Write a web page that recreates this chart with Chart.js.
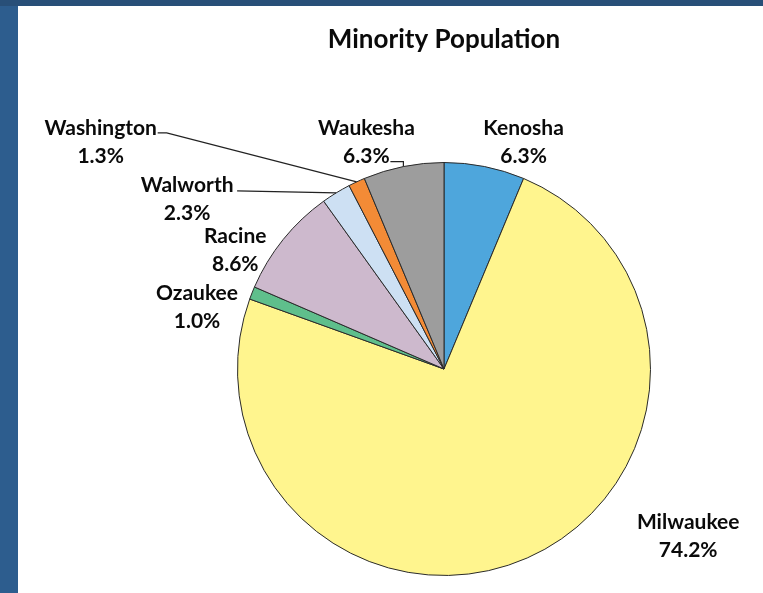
<!DOCTYPE html>
<html>
<head>
<meta charset="utf-8">
<script src="https://cdn.jsdelivr.net/npm/chart.js@4/dist/chart.umd.min.js"></script>
<style>
  html, body { margin: 0; padding: 0; background: #fff; }
  #wrap { position: relative; width: 763px; height: 593px; overflow: hidden; }
  #barLeft { position: absolute; left: 0; top: 0; width: 18px; height: 593px; background: #2d5d8e; }
  #barTop { position: absolute; left: 0; top: 0; width: 763px; height: 6px; background: #284f78; }
  canvas { position: absolute; left: 0; top: 0; }
</style>
</head>
<body>
<div id="wrap">
  <div id="barLeft"></div>
  <div id="barTop"></div>
  <canvas id="MinorityPie" width="763" height="593"></canvas>
</div>
<script>
// data
const counties = ["Kenosha", "Milwaukee", "Ozaukee", "Racine", "Walworth", "Washington", "Waukesha"];
const shares = [6.3, 74.2, 1.0, 8.6, 2.3, 1.3, 6.3];
const sliceColors = ["#4ea6dc", "#fff58e", "#5fbf8c", "#cdb9cd", "#cde0f3", "#f38b36", "#9d9d9d"];

// where each label sits, relative to the middle of its slice edge
const labelOffsets = [[39, -24], [161, -22], [-55, 14], [-48, 11], [-149, 6], [-256, -40], [-37, -24]];
// leader line points, relative to label centre (then run to the slice edge)
const leaders = {
    4: [[50, -8]],
    5: [[57, -9], [66, -9]],
    6: [[24, 19], [37, 19]]
};

const labelFont = "bold 21px Lato, 'Open Sans', sans-serif";

const sliceLabels = {
    id: "sliceLabels",
    afterDatasetsDraw(chart) {
        const ctx = chart.ctx;
        const meta = chart.getDatasetMeta(0);
        ctx.save();
        meta.data.forEach((arc, i) => {
            const p = arc.getProps(["x", "y", "startAngle", "endAngle", "outerRadius"], true);
            const mid = (p.startAngle + p.endAngle) / 2;
            const ex = p.x + Math.cos(mid) * p.outerRadius;
            const ey = p.y + Math.sin(mid) * p.outerRadius;
            const lx = ex + labelOffsets[i][0];
            const ly = ey + labelOffsets[i][1];

            if (leaders[i]) {
                ctx.strokeStyle = "#222";
                ctx.lineWidth = 1.2;
                ctx.beginPath();
                leaders[i].forEach((pt, k) => {
                    if (k === 0) ctx.moveTo(lx + pt[0], ly + pt[1]);
                    else ctx.lineTo(lx + pt[0], ly + pt[1]);
                });
                ctx.lineTo(ex, ey);
                ctx.stroke();
            }

            ctx.fillStyle = "#0a0a0a";
            ctx.font = labelFont;
            ctx.textAlign = "center";
            ctx.textBaseline = "middle";
            ctx.fillText(counties[i], lx, ly - 14);
            ctx.fillText(shares[i].toFixed(1) + "%", lx, ly + 14);
        });
        ctx.restore();
    }
};

let pie = document.querySelector("#MinorityPie");

let chart = new Chart(pie, {
    type: "pie",
    data: {
        labels: counties,
        datasets: [{
            data: shares,
            backgroundColor: sliceColors,
            borderColor: "#2a2a2a",
            borderWidth: 1,
            hoverOffset: 0
        }]
    },
    options: {
        responsive: false,
        animation: false,
        layout: {
            padding: { left: 237, right: 112, top: 0, bottom: 17 }
        },
        plugins: {
            legend: { display: false },
            tooltip: { enabled: false },
            title: {
                display: true,
                text: "Minority Population",
                color: "#0a0a0a",
                font: { family: "Lato, 'Open Sans', sans-serif", size: 26, weight: "bold", lineHeight: 1.2 },
                padding: { top: 24.4, bottom: 106.4 }
            }
        }
    },
    plugins: [sliceLabels]
});
</script>
</body>
</html>
